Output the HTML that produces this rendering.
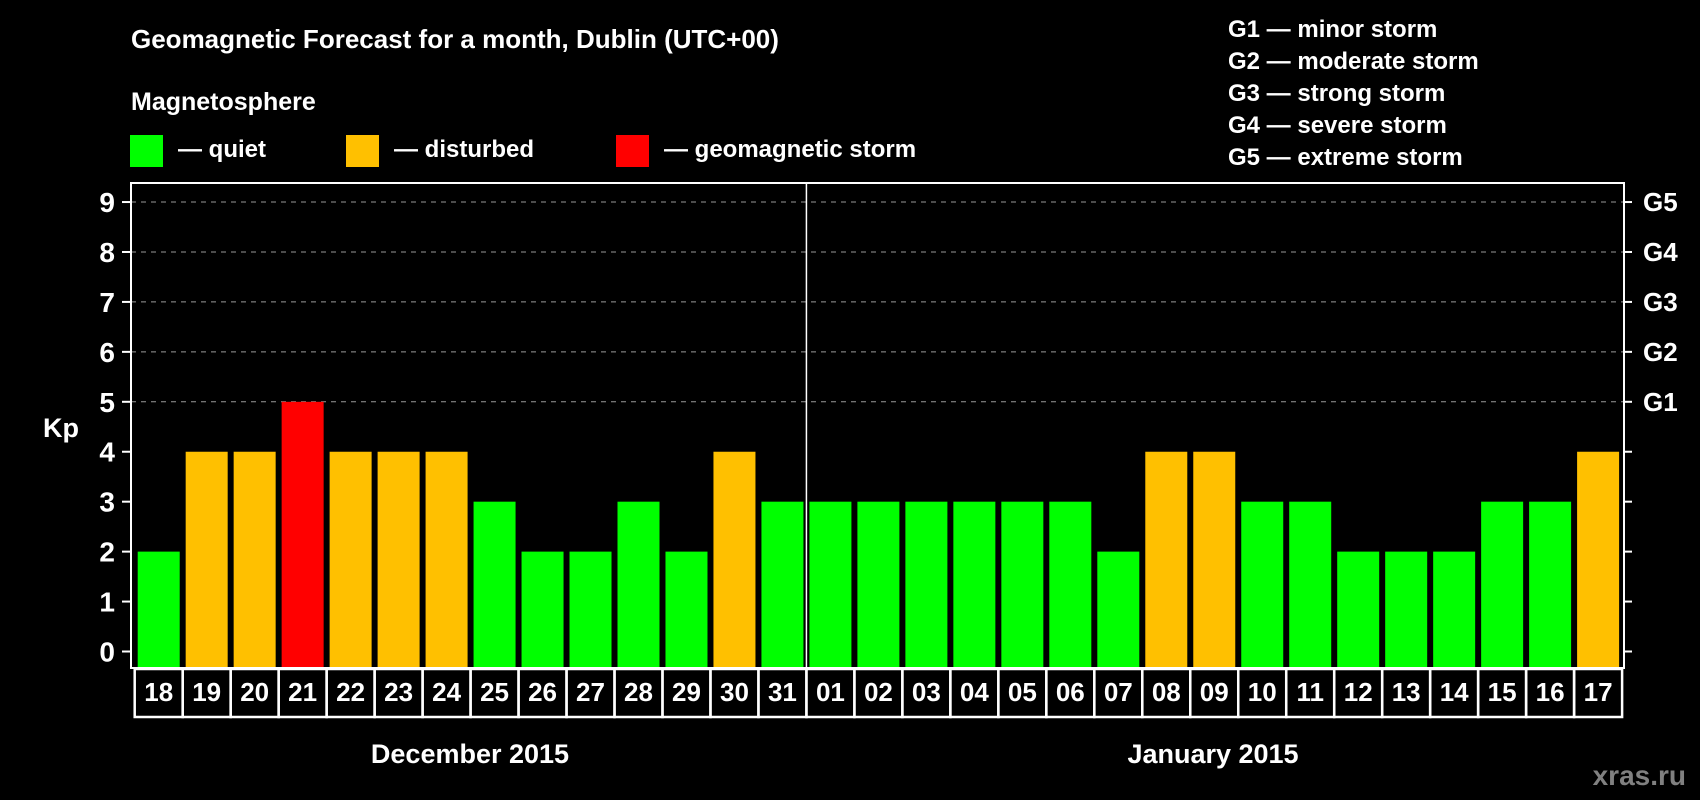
<!DOCTYPE html>
<html><head><meta charset="utf-8"><style>
html,body{margin:0;padding:0;background:#000;width:1700px;height:800px;overflow:hidden}
svg{display:block}
text{font-family:"Liberation Sans",Arial,sans-serif;font-weight:bold;fill:#fff}
</style></head><body>
<svg id="chart" width="1700" height="800" xmlns="http://www.w3.org/2000/svg">
<text x="131" y="48" font-size="26">Geomagnetic Forecast for a month, Dublin (UTC+00)</text>
<text x="131" y="110" font-size="25">Magnetosphere</text>
<g><rect x="130" y="135" width="33" height="32" fill="#00ff00"/><text x="178" y="157" font-size="24">— quiet</text></g>
<g><rect x="346" y="135" width="33" height="32" fill="#ffc000"/><text x="394" y="157" font-size="24">— disturbed</text></g>
<g><rect x="616" y="135" width="33" height="32" fill="#ff0000"/><text x="664" y="157" font-size="24">— geomagnetic storm</text></g>
<g font-size="24">
<text x="1228" y="37">G1 — minor storm</text>
<text x="1228" y="69">G2 — moderate storm</text>
<text x="1228" y="101">G3 — strong storm</text>
<text x="1228" y="133">G4 — severe storm</text>
<text x="1228" y="165">G5 — extreme storm</text>
</g>
<text x="43" y="437" font-size="27">Kp</text>
<text x="470" y="763" font-size="27" text-anchor="middle">December 2015</text>
<text x="1213" y="763" font-size="27" text-anchor="middle">January 2015</text>
<text x="1686" y="785" font-size="28" text-anchor="end" style="fill:#808080">xras.ru</text>
<g id="plot"></g>
</svg>
<script>
const days = ["18","19","20","21","22","23","24","25","26","27","28","29","30","31","01","02","03","04","05","06","07","08","09","10","11","12","13","14","15","16","17"];
const kpValues = [2,4,4,5,4,4,4,3,2,2,3,2,4,3,3,3,3,3,3,3,2,4,4,3,3,2,2,2,3,3,4];
const yTicks = [0,1,2,3,4,5,6,7,8,9];
const gLabels = ["G1","G2","G3","G4","G5"];
const gLevels = [5,6,7,8,9];

const NS="http://www.w3.org/2000/svg";
const plot=document.getElementById('plot');
const L=131, R=1624, T=183, B=668;
const y0=651.5, unit=49.94;
const yS=v=>y0-v*unit;
const step=47.98, barStart=137.7, bw=42;
const xS=i=>barStart+i*step;
function mk(tag,attrs){const e=document.createElementNS(NS,tag);for(const k in attrs)e.setAttribute(k,attrs[k]);plot.appendChild(e);return e;}
// grid
yTicks.forEach(v=>{
  if(v>=5){const g=mk('line',{x1:L,x2:R,y1:yS(v),y2:yS(v),stroke:'#999','stroke-width':1,'stroke-dasharray':'5,5'});
  
  }
  const t=mk('line',{x1:L-9,x2:L,y1:yS(v),y2:yS(v),stroke:'#fff','stroke-width':2});
  
  
  const r=mk('line',{x1:R,x2:R+8,y1:yS(v),y2:yS(v),stroke:'#fff','stroke-width':2});
  
  
  const tx=mk('text',{x:L-16,y:yS(v)+10,'font-size':28,'text-anchor':'end'});
  tx.textContent=v;
  
  
});
gLabels.forEach((g,i)=>{
  const tx=mk('text',{x:R+19,y:yS(gLevels[i])+9,'font-size':26});
  tx.textContent=g;
  
  
});
// bars
kpValues.forEach((v,i)=>{
  const col=v>=5?'#ff0000':(v>=4?'#ffc000':'#00ff00');
  const b=mk('rect',{x:xS(i),y:yS(v),width:bw,height:B-yS(v),fill:col});
  
  
});
// frame
const f=mk('rect',{x:L,y:T,width:R-L,height:B-T,fill:'none',stroke:'#fff','stroke-width':2});


// month divider
const di=days.indexOf("01");
const dx=xS(di)-3;
const dv=mk('line',{x1:dx,x2:dx,y1:T,y2:B,stroke:'#fff','stroke-width':1.5});


// label boxes
const lbL=135, lbT=669, lbB=717;
days.forEach((d,i)=>{
  const x1=xS(i)-3, x2=xS(i)+bw+3;
  const r=mk('rect',{x:x1,y:lbT,width:x2-x1,height:lbB-lbT,fill:'none',stroke:'#fff','stroke-width':2.5});
  
  
  const t=mk('text',{x:xS(i)+bw/2,y:701,'font-size':26,'text-anchor':'middle'});
  t.textContent=d;
  
  
});
</script>
</body></html>
